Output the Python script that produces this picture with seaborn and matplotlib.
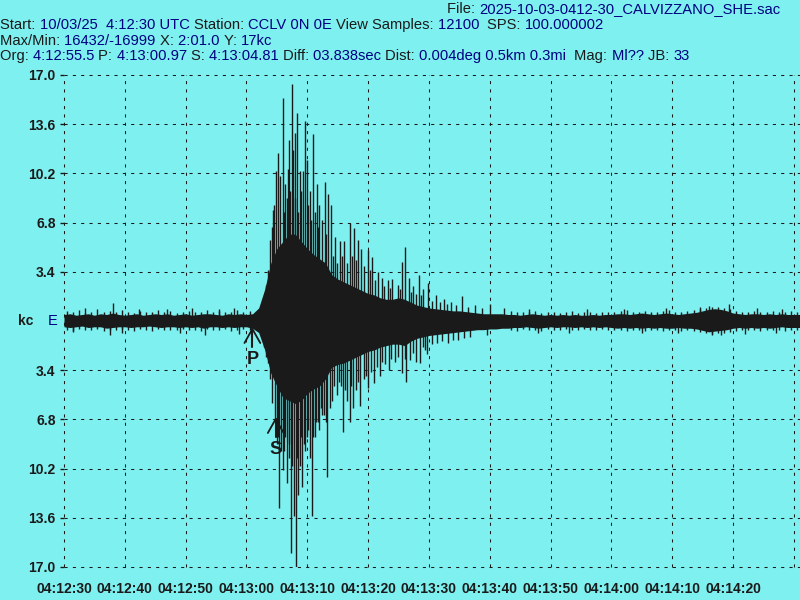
import matplotlib
matplotlib.use("Agg")
import matplotlib.pyplot as plt
import matplotlib.transforms as mtransforms
import seaborn as sns

# seismogram trace (seconds after 04:12:30, kc)
t_env = list(range(0, 122))
env_hi = [0.45, 0.5, 0.4, 0.45, 0.5, 0.4, 0.5, 0.45, 0.55, 0.45,
          0.4, 0.45, 0.5, 0.4, 0.45, 0.5, 0.45, 0.5, 0.4, 0.45,
          0.5, 0.4, 0.45, 0.5, 0.5, 0.45, 0.4, 0.5, 0.45, 0.5,
          0.45, 0.5, 0.9, 2.2, 4.0, 5.0, 5.5, 6.0, 6.0, 5.5,
          5.0, 4.6, 4.3, 4.0, 3.2, 2.9, 2.7, 2.5, 2.3, 2.1,
          1.9, 1.8, 1.6, 1.5, 1.5, 1.6, 1.5, 1.3, 1.1, 1.0,
          0.9, 0.85, 0.8, 0.75, 0.7, 0.7, 0.65, 0.6, 0.55, 0.5,
          0.5, 0.5, 0.5, 0.45, 0.45, 0.4, 0.45, 0.5, 0.45, 0.4,
          0.45, 0.4, 0.45, 0.4, 0.45, 0.4, 0.4, 0.45, 0.4, 0.45,
          0.45, 0.5, 0.5, 0.45, 0.5, 0.55, 0.5, 0.45, 0.5, 0.55,
          0.5, 0.45, 0.5, 0.55, 0.6, 0.7, 0.8, 0.85, 0.8, 0.7,
          0.55, 0.5, 0.45, 0.5, 0.5, 0.45, 0.5, 0.45, 0.5, 0.45, 0.45, 0.45]
env_lo = [-0.4, -0.45, -0.4, -0.35, -0.45, -0.4, -0.4, -0.5, -0.45, -0.4,
          -0.4, -0.45, -0.4, -0.4, -0.35, -0.4, -0.45, -0.4, -0.4, -0.45,
          -0.4, -0.45, -0.4, -0.5, -0.4, -0.4, -0.45, -0.4, -0.45, -0.4,
          -0.4, -0.5, -0.8, -2.0, -3.6, -4.5, -5.3, -5.5, -5.7, -5.5,
          -5.0, -4.7, -4.5, -4.0, -3.2, -3.0, -2.9, -2.7, -2.5, -2.3,
          -2.1, -2.0, -1.8, -1.7, -1.6, -1.6, -1.7, -1.4, -1.2, -1.1,
          -1.0, -0.95, -0.9, -0.85, -0.8, -0.75, -0.7, -0.65, -0.6, -0.6,
          -0.55, -0.55, -0.5, -0.5, -0.45, -0.45, -0.4, -0.45, -0.5, -0.45,
          -0.4, -0.45, -0.4, -0.4, -0.45, -0.4, -0.45, -0.4, -0.45, -0.4,
          -0.45, -0.5, -0.45, -0.5, -0.45, -0.5, -0.45, -0.5, -0.45, -0.5,
          -0.5, -0.45, -0.5, -0.5, -0.55, -0.65, -0.75, -0.7, -0.65, -0.6,
          -0.5, -0.45, -0.5, -0.45, -0.5, -0.45, -0.5, -0.45, -0.4, -0.45, -0.45, -0.45]

# background wiggle between the envelope samples
ns_t = [0.5, 1.5, 2.5, 3.5, 4.5, 5.5, 6.5, 7.5, 8.5, 9.5, 10.5, 11.5, 12.5, 13.5,
        14.5, 15.5, 16.5, 17.5, 18.5, 19.5, 20.5, 21.5, 22.5, 23.5, 24.5, 25.5,
        26.5, 27.5, 28.5, 29.5, 30.5, 31.5,
        73.5, 74.5, 75.5, 76.5, 77.5, 78.5, 79.5, 80.5, 81.5, 82.5, 83.5, 84.5,
        85.5, 86.5, 87.5, 88.5, 89.5, 90.5, 91.5, 92.5, 93.5, 94.5, 95.5, 96.5,
        97.5, 98.5, 99.5, 100.5, 101.5, 102.5, 103.5, 104.5, 105.5, 106.5, 107.5,
        108.5, 109.5, 110.5, 111.5, 112.5, 113.5, 114.5, 115.5, 116.5, 117.5,
        118.5, 119.5, 120.5]
ns_hi = [0.7, 0.6, 0.75, 0.55, 0.65, 0.8, 0.6, 0.7, 0.6, 0.75, 0.65, 0.55, 0.7, 0.6,
         0.65, 0.75, 0.6, 0.7, 0.55, 0.65, 0.7, 0.6, 0.65, 0.75, 0.6, 0.7,
         0.65, 0.6, 0.75, 0.6, 0.7, 0.65,
         0.7, 0.6, 0.65, 0.6, 0.7, 0.55, 0.6, 0.65, 0.55, 0.6, 0.7, 0.55,
         0.6, 0.65, 0.55, 0.6, 0.65, 0.6, 0.7, 0.75, 0.6, 0.65, 0.7, 0.6,
         0.65, 0.7, 0.75, 0.65, 0.6, 0.7, 0.75, 0.8, 0.9, 1.0, 0.95,
         0.9, 0.8, 0.7, 0.65, 0.6, 0.7, 0.65, 0.6, 0.7, 0.65,
         0.6, 0.7, 0.65]
ns_lo = [-0.6, -0.7, -0.55, -0.65, -0.6, -0.55, -0.7, -0.6, -0.65, -0.55, -0.6, -0.7, -0.55, -0.6,
         -0.7, -0.55, -0.6, -0.65, -0.6, -0.55, -0.65, -0.6, -0.7, -0.55, -0.6, -0.65,
         -0.55, -0.7, -0.6, -0.55, -0.65, -0.6,
         -0.6, -0.7, -0.55, -0.65, -0.6, -0.7, -0.55, -0.6, -0.65, -0.55, -0.6, -0.65,
         -0.55, -0.6, -0.65, -0.55, -0.6, -0.65, -0.6, -0.7, -0.65, -0.6, -0.7, -0.65,
         -0.6, -0.7, -0.65, -0.6, -0.7, -0.65, -0.7, -0.75, -0.85, -0.9, -0.85,
         -0.8, -0.75, -0.7, -0.6, -0.65, -0.6, -0.7, -0.6, -0.65, -0.6,
         -0.7, -0.6, -0.65]

# single peaks sticking out of the trace
up_t = [3.5, 8.0, 12.4, 16.9, 21.0, 25.5, 28.0,
        33.2, 33.5, 33.8, 34.15, 34.3, 34.8, 35.1, 35.45, 35.95, 36.3, 36.6, 36.95,
        37.45, 37.6, 37.9, 38.25, 38.75, 39.25, 39.6, 39.9, 40.4, 40.9, 41.55, 42.0,
        42.85, 43.35, 43.85, 44.5, 45.3, 46.1, 46.95, 47.6, 48.3, 48.9, 49.9, 50.7,
        51.55, 52.2, 53.2, 54.0, 54.85, 55.5, 56.0, 56.65, 57.45, 58.3, 59.1, 59.9,
        61.1, 62.4, 63.7, 65.5, 67.5, 70.1, 72.4,
        76.5, 86.0, 92.0, 99.0, 104.5, 106.0, 109.4, 114.0, 118.0,
        34.55, 36.1, 36.8, 37.2, 38.0, 38.5, 39.0, 40.15, 40.65, 41.3, 41.8, 42.4,
        43.1, 44.2, 44.9, 45.7, 46.5, 47.3, 48.0, 49.4, 50.3, 51.1, 52.6, 53.6,
        55.2, 57.0, 57.9, 58.7, 60.5, 61.8, 63.0, 64.5, 66.5, 68.8]
up_v = [0.9, 1.25, 0.85, 0.8, 0.9, 0.85, 0.9,
        2.5, 3.5, 5.6, 6.5, 7.7, 10.4, 11.6, 10.0, 15.4, 9.5, 8.5, 12.5,
        16.4, 11.8, 13.0, 14.4, 10.4, 10.4, 13.8, 11.1, 9.0, 12.9, 9.5, 8.0,
        9.6, 8.8, 8.0, 5.8, 5.5, 5.5, 6.8, 6.4, 5.6, 5.0, 4.9, 4.4,
        3.4, 3.0, 2.8, 2.9, 2.5, 4.1, 5.1, 3.0, 2.4, 3.2, 2.2, 2.6,
        1.8, 1.5, 1.3, 1.7, 1.1, 1.2, 0.9,
        0.8, 0.8, 0.85, 0.9, 1.0, 1.05, 1.15, 0.9, 0.85,
        8.0, 7.5, 10.5, 9.0, 8.5, 7.5, 9.0, 8.0, 7.0, 7.5, 6.5, 7.0,
        6.0, 4.5, 4.0, 4.5, 4.0, 4.5, 4.2, 3.8, 3.5, 2.8, 2.4, 2.3,
        2.2, 2.0, 1.9, 1.8, 1.4, 1.3, 1.2, 1.1, 1.0, 0.9]
dn_t = [1.5, 7.6, 9.6, 19.0, 23.2, 28.8,
        32.85, 33.2, 33.5, 33.8, 34.15, 34.65, 34.95, 35.3, 35.6, 35.95, 36.3, 36.6,
        36.95, 37.3, 37.8, 38.1, 38.45, 38.75, 39.1, 39.6, 39.9, 40.4, 40.7, 41.2,
        41.7, 42.2, 42.7, 43.2, 43.7, 44.35, 44.8, 45.5, 45.95, 46.45, 46.95, 47.45,
        47.95, 48.6, 49.25, 49.9, 50.9, 51.9, 52.7, 53.35, 54.35, 55.5, 56.3, 56.95,
        57.8, 58.45, 59.3, 59.75, 61.25, 63.05, 64.7, 66.7, 69.6,
        78.0, 83.0, 95.0, 101.0, 106.6, 108.0, 112.0, 117.0,
        35.1, 36.1, 37.05, 37.55, 38.3, 38.95, 39.4, 40.1, 40.95, 41.45, 42.0, 42.45,
        43.0, 44.0, 45.2, 46.2, 47.2, 48.3, 49.6, 50.4, 51.4, 52.3, 53.8, 54.9,
        56.0, 57.3, 59.0, 60.5, 62.2, 64.0, 65.8]
dn_v = [-0.75, -1.0, -0.8, -0.8, -0.95, -0.9,
        -1.8, -2.5, -2.9, -4.0, -5.7, -6.8, -8.5, -12.9, -9.0, -10.3, -8.0, -11.2,
        -9.5, -16.0, -13.5, -17.0, -12.0, -10.0, -11.5, -9.0, -8.0, -9.5, -13.5, -8.0,
        -7.0, -6.0, -6.5, -10.8, -6.0, -4.5, -5.1, -4.5, -7.7, -5.5, -7.0, -6.0,
        -4.8, -5.9, -4.0, -4.6, -4.3, -3.8, -3.0, -3.4, -2.8, -3.6, -4.2, -2.7,
        -2.8, -2.9, -2.0, -2.3, -1.5, -1.5, -1.3, -1.1, -1.0,
        -0.85, -0.8, -0.85, -0.8, -1.0, -1.0, -0.9, -0.85,
        -8.0, -9.0, -8.5, -10.0, -9.5, -8.0, -8.5, -7.5, -8.0, -7.0, -7.5, -6.5,
        -7.0, -5.5, -4.2, -4.8, -4.5, -4.2, -3.8, -3.5, -3.2, -2.8, -2.6, -2.5,
        -2.6, -2.2, -1.8, -1.6, -1.4, -1.3, -1.2]

# phase picks (seconds after start)
p_time = 30.97
s_time = 34.81

y_ticks = [-17.0, -13.6, -10.2, -6.8, -3.4, 3.4, 6.8, 10.2, 13.6, 17.0]
x_ticks = list(range(0, 121, 10))
x_labels = ["04:12:30", "04:12:40", "04:12:50", "04:13:00", "04:13:10", "04:13:20",
            "04:13:30", "04:13:40", "04:13:50", "04:14:00", "04:14:10", "04:14:20", ""]

header = [
    (447, 13, [("File: ", "k"), ("2025-10-03-0412-30_CALVIZZANO_SHE.sac", "n")]),
    (0, 29, [("Start: ", "k"), ("10/03/25  4:12:30 UTC ", "n"), ("Station: ", "k"),
             ("CCLV 0N 0E ", "n"), ("View Samples: ", "k"), ("12100  ", "n"),
             ("SPS: ", "k"), ("100.000002", "n")]),
    (0, 45, [("Max/Min: ", "k"), ("16432/-16999 ", "n"), ("X: ", "k"), ("2:01.0 ", "n"),
             ("Y: ", "k"), ("17kc", "n")]),
    (0, 60, [("Org: ", "k"), ("4:12:55.5 ", "n"), ("P: ", "k"), ("4:13:00.97 ", "n"),
             ("S: ", "k"), ("4:13:04.81 ", "n"), ("Diff: ", "k"), ("03.838sec ", "n"),
             ("Dist: ", "k"), ("0.004deg 0.5km 0.3mi  ", "n"), ("Mag: ", "k"),
             ("Ml?? ", "n"), ("JB: ", "k"), ("33", "n")]),
]

BG = "#7ff0f0"
NAVY = "#000080"
sns.set_theme(style="white", rc={"axes.facecolor": BG, "figure.facecolor": BG})
plt.rcParams["font.family"] = ["Liberation Sans", "DejaVu Sans"]

fig = plt.figure(figsize=(8, 6), dpi=100)
ax = fig.add_axes([64 / 800, 33 / 600, 736 / 800, 492 / 600])

# trace body and peaks
ax.fill_between(t_env, env_lo, env_hi, color="k", lw=0)
ax.vlines(ns_t, ns_lo, ns_hi, color="k", lw=1.0)
ax.vlines(up_t, 0, up_v, color="k", lw=1.0)
ax.vlines(dn_t, dn_v, 0, color="k", lw=1.0)

# P and S picks
for tt, apex, label in [(p_time, -0.55, "P"), (s_time, -6.77, "S")]:
    ax.plot([tt - 1.3, tt, tt + 1.3], [apex - 0.97, apex, apex - 0.97], color="k", lw=1.3)
    ax.plot([tt, tt], [apex, apex - 1.25], color="k", lw=1.5)
    ax.text(tt, apex - 2.08, label, ha="center", va="center", fontsize=13,
            fontweight="bold", color="k")

ax.set_xlim(0, 121)
ax.set_ylim(-17, 17)
ax.set_xticks(x_ticks)
ax.set_xticklabels(x_labels, fontsize=10, fontweight="bold")
ax.set_yticks(y_ticks)
ax.set_yticklabels(["%.1f" % abs(v) for v in y_ticks], fontsize=10, fontweight="bold")
ax.tick_params(axis="x", length=0, pad=11, colors="k")
ax.tick_params(axis="y", length=3, width=1, pad=3, colors="k", direction="out", left=True)
ax.grid(True, color="k", linestyle=(0, (3, 5)), linewidth=0.75)
for gl in ax.get_xgridlines() + ax.get_ygridlines():
    gl.set_clip_on(False)
for sp in ax.spines.values():
    sp.set_visible(False)

# channel label at zero line
blend = mtransforms.blended_transform_factory(fig.transFigure, ax.transData)
fig.text(18 / 800, 0, "kc", transform=blend, ha="left", va="center", fontsize=10,
         fontweight="bold", color="k")
fig.text(48 / 800, 0, "E", transform=blend, ha="left", va="center", fontsize=10.5,
         color=NAVY)

# header lines, black labels and navy values
for x0, base, parts in header:
    prev = None
    for txt, c in parts:
        col = "k" if c == "k" else NAVY
        if prev is None:
            prev = fig.text(x0 / 800, 1 - base / 600, txt, color=col, ha="left",
                            va="baseline", fontsize=10.6)
        else:
            prev = ax.annotate(txt, xy=(1, 0), xycoords=prev, ha="left", va="bottom",
                               color=col, fontsize=10.6, annotation_clip=False)

fig.savefig("out.png", dpi=100, facecolor=BG)
